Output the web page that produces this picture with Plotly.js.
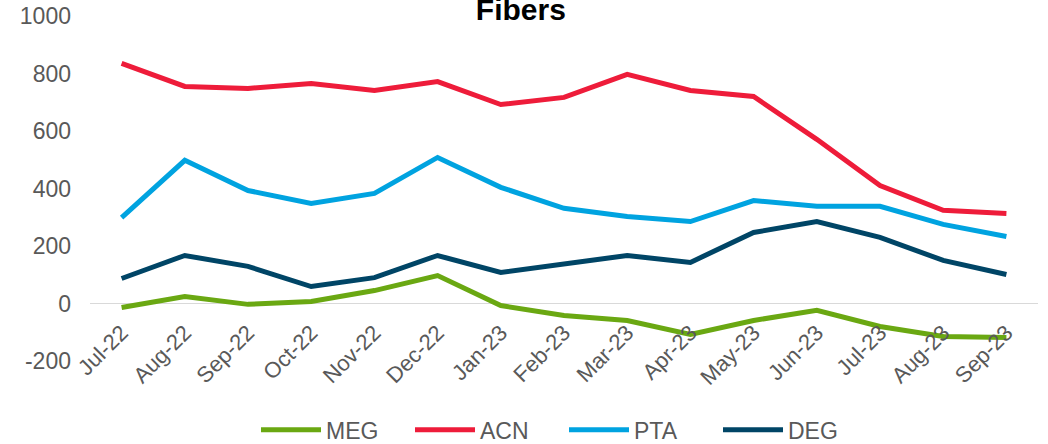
<!DOCTYPE html>
<html>
<head>
<meta charset="utf-8">
<script src="https://cdn.plot.ly/plotly-3.0.1.min.js"></script>
<style>html,body{margin:0;padding:0;background:#fff;}#chart{width:1048px;height:444px;}</style>
</head>
<body>
<div id="chart"></div>
<script>
const months = ["Jul-22","Aug-22","Sep-22","Oct-22","Nov-22","Dec-22","Jan-23","Feb-23","Mar-23","Apr-23","May-23","Jun-23","Jul-23","Aug-23","Sep-23"];
const meg = [-14, 24, -3, 7, 45, 97, -7, -42, -59, -108, -59, -24, -80, -115, -118];
const acn = [835, 755, 748, 765, 741, 772, 692, 717, 797, 741, 720, 571, 410, 324, 313];
const pta = [299, 498, 393, 348, 383, 508, 404, 331, 303, 285, 358, 338, 338, 275, 233];
const deg = [87, 167, 129, 59, 90, 167, 108, 136, 167, 143, 247, 285, 230, 150, 101];
const yTickVals = [-200, 0, 200, 400, 600, 800, 1000];
const yTickText = ["-200", "0", "200", "400", "600", "800", "1000"];

const series = [
  {name: "MEG", y: meg, color: "#6aa812"},
  {name: "ACN", y: acn, color: "#ee1c3a"},
  {name: "PTA", y: pta, color: "#00a3e0"},
  {name: "DEG", y: deg, color: "#004566"}
];

const traces = series.map(s => ({
  type: "scatter", mode: "lines", name: s.name, x: months, y: s.y,
  line: {color: s.color, width: 5, shape: "linear"}
}));

const layout = {
  width: 1048, height: 444,
  margin: {l: 90, r: 10, t: 16, b: 83, autoexpand: false},
  paper_bgcolor: "#fff", plot_bgcolor: "#fff",
  font: {family: "Liberation Sans, Arial, sans-serif", color: "#595959", size: 23},
  title: {text: "<b>Fibers</b>", x: 0.497, xanchor: "center", y: 0.978, yanchor: "middle",
          font: {size: 30, color: "#000", family: "Liberation Sans, Arial, sans-serif"}},
  xaxis: {type: "category", range: [-0.5, months.length - 0.5], autorange: false,
          anchor: "free", position: 1/6, showgrid: false, showline: false, automargin: false,
          ticks: "", tickangle: -45, tickfont: {size: 22, color: "#595959"}, zeroline: false,
          ticklabelstandoff: 11},
  yaxis: {range: [-200, 1000], autorange: false, tickvals: yTickVals, ticktext: yTickText,
          showgrid: false, automargin: false,
          zeroline: true, zerolinecolor: "#d9d9d9", zerolinewidth: 1.5, showline: false,
          ticks: "", tickfont: {size: 23, color: "#595959"}, ticklabelstandoff: 18},
  showlegend: true,
  legend: {orientation: "h", x: 0.5, xanchor: "center", yref: "container", y: 0.032, yanchor: "middle",
           font: {size: 23, color: "#595959"}, itemwidth: 60, entrywidth: 79, traceorder: "normal"}
};

Plotly.newPlot("chart", traces, layout, {displayModeBar: false, staticPlot: true});
</script>
</body>
</html>
